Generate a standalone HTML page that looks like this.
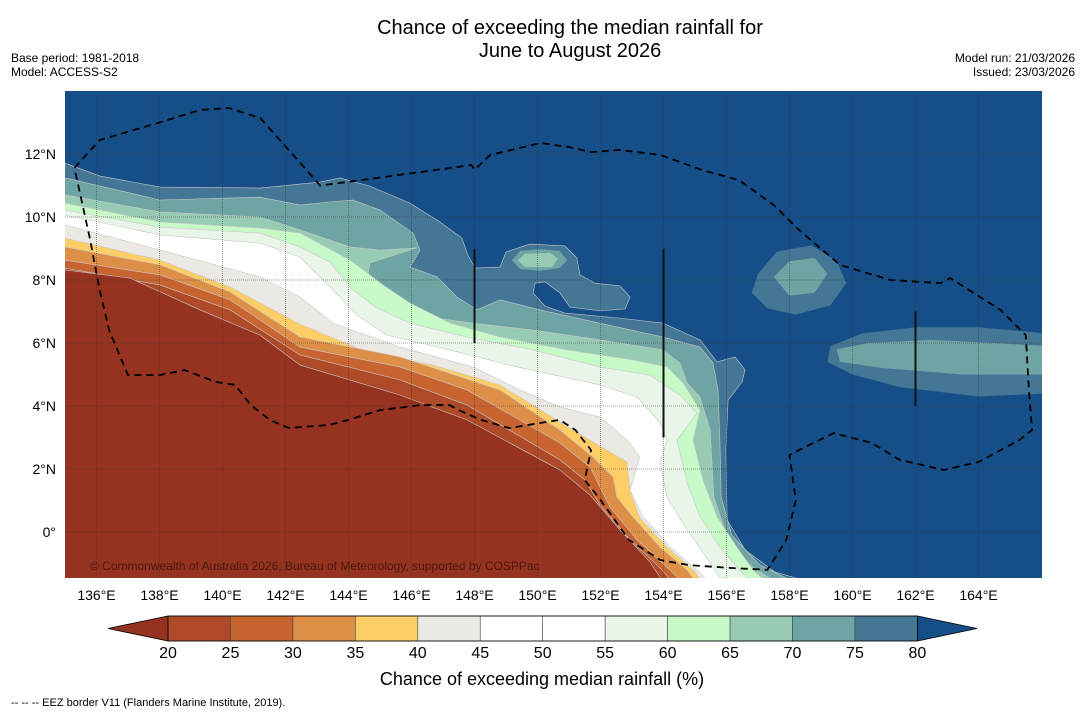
<!DOCTYPE html>
<html><head><meta charset="utf-8"><style>
html,body{margin:0;padding:0;background:#fff;}
svg{display:block;font-family:"Liberation Sans",sans-serif;}
</style></head><body>
<svg id="chart" width="1085" height="713" viewBox="0 0 1085 713">
<text x="570" y="34" font-size="20" text-anchor="middle">Chance of exceeding the median rainfall for</text>
<text x="570" y="57" font-size="20" text-anchor="middle">June to August 2026</text>
<text x="11" y="62" font-size="12">Base period: 1981-2018</text>
<text x="11" y="76" font-size="12">Model: ACCESS-S2</text>
<text x="1075" y="62" font-size="12" text-anchor="end">Model run: 21/03/2026</text>
<text x="1075" y="76" font-size="12" text-anchor="end">Issued: 23/03/2026</text>
<defs><clipPath id="mapclip"><rect x="65" y="91" width="977" height="487"/></clipPath></defs>
<g id="map" clip-path="url(#mapclip)"></g>
<g id="axes"></g>
<g id="cbar"></g>
<text x="542" y="685" font-size="18" text-anchor="middle">Chance of exceeding median rainfall (%)</text>
<text x="11" y="706" font-size="11">--  --  -- EEZ border V11 (Flanders Marine Institute, 2019).</text>
</svg>
<script>
const lonTicks=[136,138,140,142,144,146,148,150,152,154,156,158,160,162,164];
const latTicks=[0,2,4,6,8,10,12];
const cbarLevels=[20,25,30,35,40,45,50,55,60,65,70,75,80];
const cbarColors=["#ae4a28","#c8642f","#dd8f48","#fdcd66","#ece9e4","#ffffff","#ffffff","#e8f5e8","#c8fac8","#98cbb4","#6ea4a4","#447696"];
const underColor="#963320", overColor="#164f88";
const contourLevels=[80,75,70,65,60,55,45,40,35,30,25,20];
const contourFills=["#447696","#6ea4a4","#98cbb4","#c8fac8","#e8f5e8","#ffffff","#ece9e4","#fdcd66","#dd8f48","#c8642f","#ae4a28","#963320"];
const c80=[[135,11.71],[136.11,11.3],[138.02,10.95],[141.19,10.92],[143.1,11.11],[143.73,11.24],[144.68,10.98],[145.95,10.44],[146.9,9.84],[147.6,9.33],[147.79,8.79],[148.02,8.38],[148.81,8.41],[149.0,8.89],[149.76,9.14],[150.87,9.08],[151.25,8.7],[151.35,8.16],[151.83,7.9],[152.62,7.81],[152.94,7.46],[152.78,7.08],[151.98,7.02],[151.03,7.14],[150.71,7.59],[150.24,7.94],[149.92,7.9],[149.86,7.59],[150.24,7.17],[150.87,6.95],[152.62,6.79],[153.98,6.63],[155.16,6.1],[155.7,5.4],[156.27,5.56],[156.59,5.14],[156.49,4.76],[156.05,4.19],[155.98,2.6],[156.02,0.38],[156.59,-0.57],[157.54,-1.27],[158.97,-1.68]];
const c75=[[135,11.24],[138.02,10.54],[141.19,10.63],[142.46,10.38],[143.41,10.48],[144.14,10.54],[145.0,10.22],[146.05,9.49],[146.27,8.95],[145.95,8.41],[146.81,8.1],[147.44,7.46],[148.08,7.05],[148.81,7.37],[150.08,7.05],[151.98,6.63],[153.98,6.19],[155.16,5.87],[155.57,5.37],[155.73,4.51],[155.79,2.92],[155.83,1.11],[156.17,-0.1],[157.06,-1.05],[158.33,-1.68]];
const c70=[[135,10.7],[138.02,10.16],[141.19,10.0],[142.46,9.59],[144.05,9.05],[145.0,8.95],[146.17,9.02],[144.68,8.54],[144.59,8.0],[145.41,7.46],[146.49,6.83],[147.95,6.63],[149.86,6.41],[151.98,6.1],[153.98,5.78],[154.52,5.37],[154.75,4.73],[155.16,4.29],[155.48,3.24],[155.6,1.11],[156.02,-0.16],[156.75,-1.05],[157.7,-1.68]];
const c65=[[135,10.44],[138.02,9.84],[141.19,9.65],[142.46,9.49],[144.05,8.63],[145.1,7.84],[145.95,7.27],[147.22,6.63],[148.81,6.19],[150.94,5.78],[153.03,5.46],[154.11,5.24],[154.62,4.73],[155.16,3.87],[154.94,2.92],[155.25,1.65],[155.7,0.48],[156.33,-0.48],[156.84,-1.21],[157.38,-1.68]];
const c60=[[135,10.22],[138.02,9.68],[141.19,9.49],[142.46,9.05],[143.41,8.57],[144.14,7.68],[144.9,7.11],[145.95,6.63],[147.76,6.19],[149.86,5.78],[151.98,5.24],[153.57,4.98],[154.52,4.35],[155.06,3.78],[154.43,2.92],[154.75,1.56],[155.16,0.48],[155.79,-0.48],[156.43,-1.21],[156.9,-1.68]];
const c55=[[135,10.06],[138.02,9.43],[141.19,9.17],[142.46,8.73],[143.51,7.68],[144.27,6.89],[145.22,6.25],[147.22,5.78],[149.35,5.24],[151.98,4.67],[153.16,4.29],[153.89,3.46],[154.11,2.92],[153.89,2.19],[154.11,1.11],[154.75,0.06],[155.48,-0.98],[155.95,-1.68]];
const c45=[[135,9.75],[138.02,8.95],[141.19,8.1],[142.46,7.46],[143.51,6.63],[145.63,5.87],[147.95,5.24],[149.44,4.51],[150.71,3.97],[151.98,3.65],[152.84,2.92],[153.25,2.38],[152.94,1.33],[153.35,0.48],[154.21,-0.48],[155.16,-1.3],[155.54,-1.68]];
const c40=[[135,9.33],[138.02,8.63],[140.24,7.78],[142.46,6.6],[144.59,5.71],[146.68,5.3],[148.81,4.67],[150.71,3.49],[151.76,2.86],[152.84,2.22],[152.94,1.3],[153.25,0.44],[154.11,-0.48],[154.94,-1.21],[155.32,-1.68]];
const c35=[[135,9.05],[138.02,8.48],[140.24,7.62],[142.46,6.19],[145.63,5.56],[148.81,4.51],[150.71,3.24],[151.76,2.38],[152.4,1.75],[152.52,1.11],[153.03,0.48],[153.89,-0.48],[154.75,-1.21],[155.1,-1.68]];
const c30=[[135,8.63],[138.02,8.16],[140.24,7.37],[142.46,5.87],[145.63,5.24],[147.76,4.51],[150.71,2.83],[151.67,2.06],[151.98,1.43],[152.3,0.79],[153.16,-0.25],[154.21,-1.21],[154.68,-1.68]];
const c25=[[135,8.38],[138.02,7.84],[140.24,7.05],[142.46,5.62],[145.63,4.83],[147.76,4.03],[150.71,2.29],[151.51,1.65],[151.98,0.86],[152.94,-0.25],[153.89,-1.14],[154.37,-1.68]];
const c20=[[135,8.32],[137.06,8.06],[139.29,7.05],[141.19,6.25],[142.46,5.3],[145.63,4.35],[147.76,3.56],[150.71,1.97],[151.67,1.17],[152.62,0.06],[153.57,-0.95],[154.05,-1.68]];
const contours=[c80,c75,c70,c65,c60,c55,c45,c40,c35,c30,c25,c20];
const blob80a=[[156.8,7.6],[157,8.2],[157.6,8.9],[158.7,9.1],[159.5,8.6],[159.8,7.9],[159.3,7.2],[158.2,6.9],[157.3,7.1]];
const blob75a=[[157.5,8.1],[158,8.6],[158.8,8.7],[159.2,8.2],[158.8,7.6],[158,7.5]];
const blob80b=[[159.2,5.4],[159.3,5.9],[160.3,6.3],[162,6.5],[164,6.5],[166.2,6.3],[166.2,4.4],[164,4.3],[161.5,4.6],[160,5.0]];
const blob75b=[[159.6,5.4],[159.5,5.8],[160.5,6.0],[162.5,6.1],[164.5,6.0],[166.2,5.9],[166.2,5.0],[163.5,5.0],[161,5.2]];
const blob75c=[[149.19,8.63],[149.44,8.92],[150.08,8.98],[150.71,8.92],[150.94,8.63],[150.71,8.38],[150.08,8.29],[149.44,8.35]];
const blob70c=[[149.38,8.63],[149.6,8.83],[150.4,8.86],[150.65,8.67],[150.46,8.41],[149.6,8.41]];
const blobs=[[blob80a,"#447696"],[blob75a,"#6ea4a4"],[blob80b,"#447696"],[blob75b,"#6ea4a4"],[blob75c,"#6ea4a4"],[blob70c,"#98cbb4"]];
const eez=[[135.3,11.56],[136.1,12.44],[138.0,13.0],[139.3,13.4],[140.2,13.46],[141.2,13.14],[142.1,12.13],[143.1,11.0],[144.4,11.17],[146.3,11.43],[147.9,11.65],[148.0,11.5],[148.5,11.97],[150.1,12.35],[151.0,12.22],[151.7,12.06],[152.6,12.13],[153.9,11.97],[155.2,11.5],[156.4,11.17],[157.5,10.38],[158.3,9.59],[159.6,8.48],[161.2,8.0],[162.8,7.9],[163.1,8.06],[164.7,7.05],[165.5,6.25],[165.6,4.5],[165.7,3.24],[165.3,2.92],[164.0,2.22],[162.9,1.97],[161.5,2.29],[160.6,2.83],[159.4,3.14],[158.3,2.6],[158.0,2.44],[158.2,1.02],[157.9,-0.25],[157.3,-1.2],[156.1,-1.14],[154.8,-1.05],[153.9,-0.89],[152.9,-0.25],[152.0,1.02],[151.5,1.65],[151.7,2.6],[151.2,3.24],[150.7,3.56],[149.1,3.3],[148.2,3.56],[147.5,3.87],[147.2,4.03],[146.3,4.03],[145.0,3.87],[144.0,3.56],[143.4,3.4],[142.1,3.3],[141.5,3.56],[140.9,4.03],[140.4,4.67],[139.8,4.76],[138.8,5.14],[138.0,4.98],[137.0,4.98],[136.4,6.41],[136.1,7.68],[135.8,9.27],[135.3,11.56]];
const vlines=[[148,9.0,6.0],[154,9.0,3.0],[162,7.0,4.0]];

const NS="http://www.w3.org/2000/svg";
const X=lon=>65+(lon-135)*31.5;
const Y=lat=>91+(14-lat)*31.5;
const CX=v=>168+(v-20)*62.45/5;
function mk(tag,attrs,parent){const e=document.createElementNS(NS,tag);for(const k in attrs)e.setAttribute(k,attrs[k]);parent.appendChild(e);return e;}
const map=document.getElementById('map'),axes=document.getElementById('axes'),cbar=document.getElementById('cbar');
let bg=mk('rect',{x:65,y:91,width:977,height:487,fill:overColor},map);


contours.forEach((c,i)=>{
  const pts=c.map(p=>X(p[0])+','+Y(p[1])).join(' ')+' '+X(134)+','+Y(-3);
  const p=mk('polygon',{points:pts,fill:contourFills[i],stroke:'#c8c8c8','stroke-width':0.6,'stroke-linejoin':'round'},map);
  
  
});
blobs.forEach((b,i)=>{
  const p=mk('polygon',{points:b[0].map(q=>X(q[0])+','+Y(q[1])).join(' '),fill:b[1]},map);
  
  
});
lonTicks.forEach(l=>{
  const g=mk('line',{x1:X(l),x2:X(l),y1:91,y2:578,stroke:'#333','stroke-width':0.8,'stroke-dasharray':'1,1','stroke-opacity':0.6},map);
  
  
  const t=mk('text',{x:X(l),y:600,'font-size':14,'text-anchor':'middle'},axes);t.textContent=l+'°E';
  
  
});
latTicks.forEach(l=>{
  const g=mk('line',{x1:65,x2:1042,y1:Y(l),y2:Y(l),stroke:'#333','stroke-width':0.8,'stroke-dasharray':'1,1','stroke-opacity':0.6},map);
  
  
  const t=mk('text',{x:56,y:Y(l)+5,'font-size':14,'text-anchor':'end'},axes);t.textContent=l===0?'0°':l+'°N';
  
  
});
vlines.forEach(v=>{
  const l=mk('line',{x1:X(v[0]),x2:X(v[0]),y1:Y(v[1]),y2:Y(v[2]),stroke:'#111','stroke-width':2},map);
  
  
});
const ez=mk('polyline',{points:eez.map(q=>X(q[0])+','+Y(q[1])).join(' '),fill:'none',stroke:'#000','stroke-width':1.8,'stroke-dasharray':'7,5'},map);


const cp=mk('text',{x:90,y:570,'font-size':12,fill:'#4a1a10'},map);
cp.textContent='© Commonwealth of Australia 2026, Bureau of Meteorology, supported by COSPPac';


const y0=616,y1=641,ym=628.5;
const la=mk('polygon',{points:`108,${ym} ${CX(20)},${y0} ${CX(20)},${y1}`,fill:underColor,stroke:'#000','stroke-width':0.8},cbar);


const ra=mk('polygon',{points:`${CX(80)},${y0} 977,${ym} ${CX(80)},${y1}`,fill:overColor,stroke:'#000','stroke-width':0.8},cbar);


cbarColors.forEach((c,i)=>{
  const r=mk('rect',{x:CX(cbarLevels[i]),y:y0,width:CX(cbarLevels[i+1])-CX(cbarLevels[i]),height:y1-y0,fill:c,stroke:'#444','stroke-width':0.6},cbar);
  
  
});
const ol=mk('rect',{x:CX(20),y:y0,width:CX(80)-CX(20),height:y1-y0,fill:'none',stroke:'#000','stroke-width':0.8},cbar);


cbarLevels.forEach(v=>{
  const t=mk('text',{x:CX(v),y:658,'font-size':16,'text-anchor':'middle'},cbar);t.textContent=v;
  
  
});
</script>
</body></html>
